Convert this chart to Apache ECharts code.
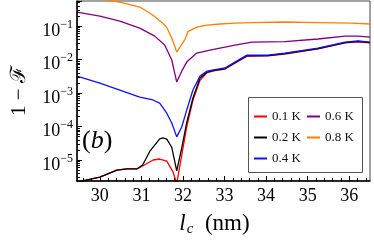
<!DOCTYPE html>
<html><head><meta charset="utf-8">
<script src="https://cdn.jsdelivr.net/npm/echarts@6/dist/echarts.min.js"></script>
<style>html,body{margin:0;padding:0;background:#fff}#c{width:374px;height:245px}</style>
</head><body><div id="c"></div><script>
const seriesNames = ['0.1 K', '0.2 K', '0.4 K', '0.6 K', '0.8 K'];
const xTicks = [30, 31, 32, 33, 34, 35, 36];
const yTicks = [1e-5, 1e-4, 1e-3, 1e-2, 1e-1];

const xRed = [29.45, 30.0, 30.41, 30.65, 30.89, 31.03, 31.28, 31.44, 31.61, 31.76, 31.85, 31.97, 32.09, 32.24, 32.41, 32.58, 32.77, 33.01, 33.25, 33.54, 34.04, 34.45, 35.25, 35.90, 36.21, 36.5];
const yRed = [2.2e-6, 3.1e-6, 5.0e-6, 5.4e-6, 5.4e-6, 6.6e-6, 1.0e-5, 1.07e-5, 9.3e-6, 4.4e-6, 2.0e-6, 1.4e-5, 9.7e-5, 6.2e-4, 0.0024, 0.0041, 0.0047, 0.0052, 0.0078, 0.0127, 0.0128, 0.0146, 0.0207, 0.0315, 0.0340, 0.0315];

const xBlack = [29.45, 30.0, 30.41, 30.65, 30.89, 31.03, 31.2, 31.44, 31.52, 31.61, 31.73, 31.85, 31.97, 32.09, 32.24, 32.41, 32.58, 32.77, 33.01, 33.25, 33.54, 34.04, 34.45, 35.25, 35.90, 36.21, 36.5];
const yBlack = [2.2e-6, 3.1e-6, 5.0e-6, 5.4e-6, 5.4e-6, 7.1e-6, 1.8e-5, 4.3e-5, 4.6e-5, 4.2e-5, 2.4e-5, 4.7e-6, 2.3e-5, 1.3e-4, 7.1e-4, 0.0028, 0.0042, 0.0048, 0.0053, 0.0080, 0.0130, 0.0131, 0.0150, 0.0212, 0.0322, 0.0347, 0.0322];

const xBlue = [29.45, 30.0, 30.48, 30.96, 31.28, 31.44, 31.61, 31.73, 31.85, 31.97, 32.09, 32.24, 32.41, 32.58, 32.77, 33.01, 33.25, 33.54, 34.04, 34.45, 35.25, 35.90, 36.21, 36.5];
const yBlue = [0.00322, 0.00199, 0.00123, 0.00076, 0.00062, 0.0005, 0.00025, 0.000127, 4.9e-5, 9.7e-5, 0.00031, 0.00123, 0.0032, 0.0045, 0.0050, 0.0056, 0.0084, 0.0136, 0.0136, 0.0156, 0.022, 0.0333, 0.036, 0.0333];

const xPurple = [29.45, 30.0, 30.48, 30.96, 31.32, 31.56, 31.73, 31.85, 31.97, 32.09, 32.33, 32.65, 32.89, 33.25, 33.66, 34.45, 35.25, 35.90, 36.21, 36.5];
const yPurple = [0.262, 0.199, 0.141, 0.087, 0.050, 0.027, 0.0097, 0.00213, 0.0045, 0.0084, 0.0156, 0.0192, 0.022, 0.027, 0.0333, 0.0345, 0.041, 0.050, 0.050, 0.047];

const xOrange = [29.45, 30.0, 30.48, 30.96, 31.28, 31.52, 31.61, 31.73, 31.85, 31.93, 32.05, 32.12, 32.33, 32.58, 32.89, 33.25, 33.66, 34.45, 35.25, 36.06, 36.5];
const yOrange = [0.73, 0.64, 0.52, 0.37, 0.21, 0.12, 0.09, 0.044, 0.0167, 0.024, 0.040, 0.068, 0.093, 0.107, 0.115, 0.123, 0.127, 0.132, 0.127, 0.123, 0.115];

const colors = ['#ff0000', '#000000', '#1010ff', '#800080', '#ff8000'];
const X_MIN = 29.45, X_MAX = 36.5, Y_MIN = 2.36e-6, Y_MAX = 0.56;
const GRID = { left: 77, right: 4, top: 1, bottom: 64 };
const W = 374, H = 245;
const gridW = W - GRID.left - GRID.right, gridH = H - GRID.top - GRID.bottom;

const xMinor = [];
for (let v = 29.6; v < 36.5; v += 0.2) { const r = Math.round(v * 10) / 10; if (Math.abs(r - Math.round(r)) > 1e-6) xMinor.push(r); }
// minor ticks of the log axis, as exponents (positions on a linear exponent axis)
const yMinorExp = [];
for (let e = -6; e <= -1; e++) for (let k = 2; k <= 9; k++) { const v = Math.log10(k) + e; if (v > Math.log10(Y_MIN) && v < Math.log10(Y_MAX)) yMinorExp.push(v); }

const serif = "'Liberation Serif', 'DejaVu Serif', serif";
const sets = [[xRed, yRed], [xBlack, yBlack], [xBlue, yBlue], [xPurple, yPurple], [xOrange, yOrange]];
const series = sets.map((s, i) => ({
  name: seriesNames[i], type: 'line', xAxisIndex: 0, yAxisIndex: 0,
  data: s[0].map((x, j) => [x, s[1][j]]),
  symbol: 'none', showSymbol: false, clip: true, z: 2 + i,
  lineStyle: { color: colors[i], width: 1.3 }, itemStyle: { color: colors[i] }
}));

const chart = echarts.init(document.getElementById('c'), null, { renderer: 'canvas' });
const legendCommon = {
  orient: 'vertical', padding: 0, itemGap: 8, itemWidth: 13, itemHeight: 2, icon: 'rect', z: 20,
  textStyle: { fontFamily: serif, fontSize: 13, color: '#111' }, selectedMode: false
};
const tickStyle = { color: '#000', width: 1 };
const isPow = v => Math.abs(Math.log10(v) - Math.round(Math.log10(v))) < 1e-6;
chart.setOption({
  animation: false,
  backgroundColor: '#fff',
  grid: [Object.assign({ show: true, borderColor: '#444', borderWidth: 1 }, GRID)],
  legend: [
    Object.assign({ left: 254, top: 110, data: seriesNames.slice(0, 3) }, legendCommon),
    Object.assign({ left: 307, top: 110, data: seriesNames.slice(3) }, legendCommon)
  ],
  xAxis: [
    { type: 'value', min: X_MIN, max: X_MAX, position: 'bottom', z: 10,
      axisLine: { show: true, lineStyle: { color: '#000', width: 1.5 } },
      axisTick: { show: true, inside: true, length: 5, customValues: xTicks, lineStyle: tickStyle },
      axisLabel: { customValues: xTicks, fontFamily: serif, fontSize: 18, color: '#000', margin: 6 },
      splitLine: { show: false },
      name: '{i|l}{s|c}{n|  (nm)}', nameLocation: 'middle', nameGap: 29,
      nameTextStyle: { padding: [0, 18, 0, 0], rich: {
        i: { fontFamily: serif, fontStyle: 'italic', fontSize: 23, color: '#000', verticalAlign: 'middle' },
        s: { fontFamily: serif, fontStyle: 'italic', fontSize: 15, color: '#000', verticalAlign: 'middle', padding: [12, 0, 0, 1] },
        n: { fontFamily: serif, fontSize: 23, color: '#000', verticalAlign: 'middle' }
      } } },
    // minor ticks: axis placed on top, moved down onto the bottom edge
    { type: 'value', min: X_MIN, max: X_MAX, position: 'top', offset: -gridH, z: 10,
      axisLine: { show: false },
      axisTick: { show: true, inside: false, length: 3, customValues: xMinor, lineStyle: tickStyle },
      axisLabel: { show: false }, splitLine: { show: false } }
  ],
  yAxis: [
    { type: 'log', min: Y_MIN, max: Y_MAX, position: 'left', z: 10,
      axisLine: { show: true, lineStyle: { color: '#000', width: 1.5 } },
      axisTick: { show: true, inside: true, length: 5, lineStyle: tickStyle },
      axisLabel: { customValues: yTicks, margin: 4, padding: [10, 0, 0, 0],
        formatter: v => isPow(v) ? '{b|10}{s|\u2212' + Math.round(-Math.log10(v)) + '}' : '',
        rich: {
          b: { fontFamily: serif, fontSize: 18, color: '#000', verticalAlign: 'middle' },
          s: { fontFamily: serif, fontSize: 12, color: '#000', verticalAlign: 'middle', padding: [0, 0, 13, 0] }
        } },
      splitLine: { show: false },
      name: '1 \u2212 \u2131', nameLocation: 'middle', nameRotate: 90, nameGap: 47,
      nameTextStyle: { fontFamily: serif, fontSize: 21, color: '#000' } },
    // minor ticks of the log axis: exponent axis placed right, moved onto the left edge
    { type: 'value', min: Math.log10(Y_MIN), max: Math.log10(Y_MAX), position: 'right', offset: -gridW, z: 10,
      axisLine: { show: false },
      axisTick: { show: true, inside: false, length: 3, customValues: yMinorExp, lineStyle: tickStyle },
      axisLabel: { show: false }, splitLine: { show: false } }
  ],
  graphic: [
    { type: 'rect', z: 1, shape: { x: 248.5, y: 97.5, width: 114, height: 75 },
      style: { fill: '#fff', stroke: '#555', lineWidth: 1 } },
    { type: 'text', z: 60, left: 82, top: 128,
      style: { text: '{p|(}{b|b}{p|)}', rich: {
        p: { fontFamily: serif, fontSize: 26, fill: '#000' },
        b: { fontFamily: serif, fontStyle: 'italic', fontSize: 26, fill: '#000' } } } }
  ],
  series: series
});
</script></body></html>
